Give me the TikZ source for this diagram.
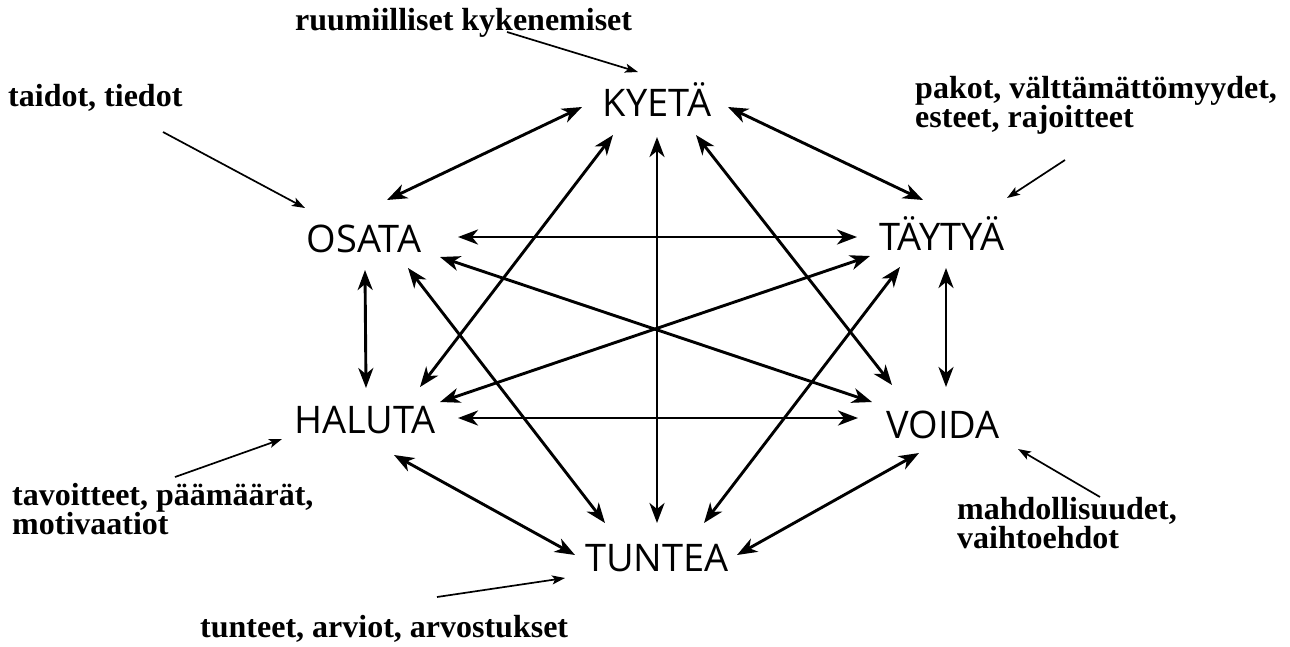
\documentclass[tikz,border=0pt]{standalone}
\usepackage{fontspec}
\setmainfont{Liberation Serif}
\newfontfamily\sansnode{Open Sans}
\usetikzlibrary{arrows.meta,calc}
\begin{document}
\begin{tikzpicture}[x=1pt,y=-1pt,
  verb/.style={font=\sansnode\fontsize{38}{40}\selectfont, inner sep=0pt, anchor=base},
  lbl/.style={font=\bfseries\fontsize{32}{32}\selectfont, inner sep=0pt, anchor=base west},
  bi/.style={line width=2.9pt, {Stealth[length=20pt,width=15pt,inset=6pt]}-{Stealth[length=20pt,width=15pt,inset=6pt]}},
  note/.style={line width=1.7pt, -{Stealth[length=13pt,width=9pt,inset=3pt]}}]
\useasboundingbox[fill=white] (0,0) rectangle (1290,646);

% verbs
\node[verb] (K) at (657,116) {KYETÄ};
\node[verb] (O) at (364,252) {OSATA};
\node[verb] (T) at (942,250) {TÄYTYÄ};
\node[verb] (H) at (365,433) {HALUTA};
\node[verb] (V) at (943,438) {VOIDA};
\node[verb] (U) at (657,571) {TUNTEA};

% labels
\node[lbl] (ruum) at (295,30) {ruumiilliset kykenemiset};
\node[lbl] (taid) at (8,106) {taidot, tiedot};
\node[lbl] (pakA) at (915,98) {pakot, välttämättömyydet,};
\node[lbl] (pakB) at (915,127) {esteet, rajoitteet};
\node[lbl] (tavA) at (12,505) {tavoitteet, päämäärät,};
\node[lbl] (tavB) at (12,534) {motivaatiot};
\node[lbl] (mahA) at (957,519) {mahdollisuudet,};
\node[lbl] (mahB) at (957,548) {vaihtoehdot};
\node[lbl] (tunt) at (200,637) {tunteet, arviot, arvostukset};

% connectors between verbs
\draw[bi] ($(K.base)+(-75,-9)$) -- ($(O.base)+(23,-52)$);
\draw[bi] ($(K.base)+(71,-9)$) -- ($(T.base)+(-19,-50)$);
\draw[bi] ($(K.base)+(-44,19)$) -- ($(H.base)+(55,-46)$);
\draw[bi] ($(K.base)+(0,21)$) -- ($(U.base)+(0,-48)$);
\draw[bi] ($(K.base)+(39,19)$) -- ($(V.base)+(-51,-53)$);
\draw[bi] ($(O.base)+(94,-15)$) -- ($(T.base)+(-85,-13)$);
\draw[bi] ($(O.base)+(76,5)$) -- ($(V.base)+(-71,-36)$);
\draw[bi] ($(O.base)+(44,16)$) -- ($(U.base)+(-52,-48)$);
\draw[bi] ($(O.base)+(1,18)$) -- ($(H.base)+(1,-45)$);
\draw[bi] ($(T.base)+(-72,6)$) -- ($(H.base)+(75,-31)$);
\draw[bi] ($(T.base)+(-42,17)$) -- ($(U.base)+(47,-48)$);
\draw[bi] ($(T.base)+(4,18)$) -- ($(V.base)+(3,-51)$);
\draw[bi] ($(H.base)+(93,-15)$) -- ($(V.base)+(-85,-20)$);
\draw[bi] ($(H.base)+(29,22)$) -- ($(U.base)+(-82,-16)$);
\draw[bi] ($(V.base)+(-24,15)$) -- ($(U.base)+(80,-16)$);

% annotation arrows
\coordinate (sRuum) at (507,32);
\coordinate (sTaid) at (163,132);
\coordinate (sPak) at (1065,160);
\coordinate (sTav) at (175,477);
\coordinate (sMah) at (1100,497);
\coordinate (sTunt) at (437,597);
\draw[note] (sRuum) -- ($(K.base)+(-19,-44)$);
\draw[note] (sTaid) -- ($(O.base)+(-59,-44)$);
\draw[note] (sPak) -- ($(T.base)+(65,-52)$);
\draw[note] (sTav) -- ($(H.base)+(-83,6)$);
\draw[note] (sMah) -- ($(V.base)+(75,11)$);
\draw[note] (sTunt) -- ($(U.base)+(-92,7)$);
\end{tikzpicture}
\end{document}
